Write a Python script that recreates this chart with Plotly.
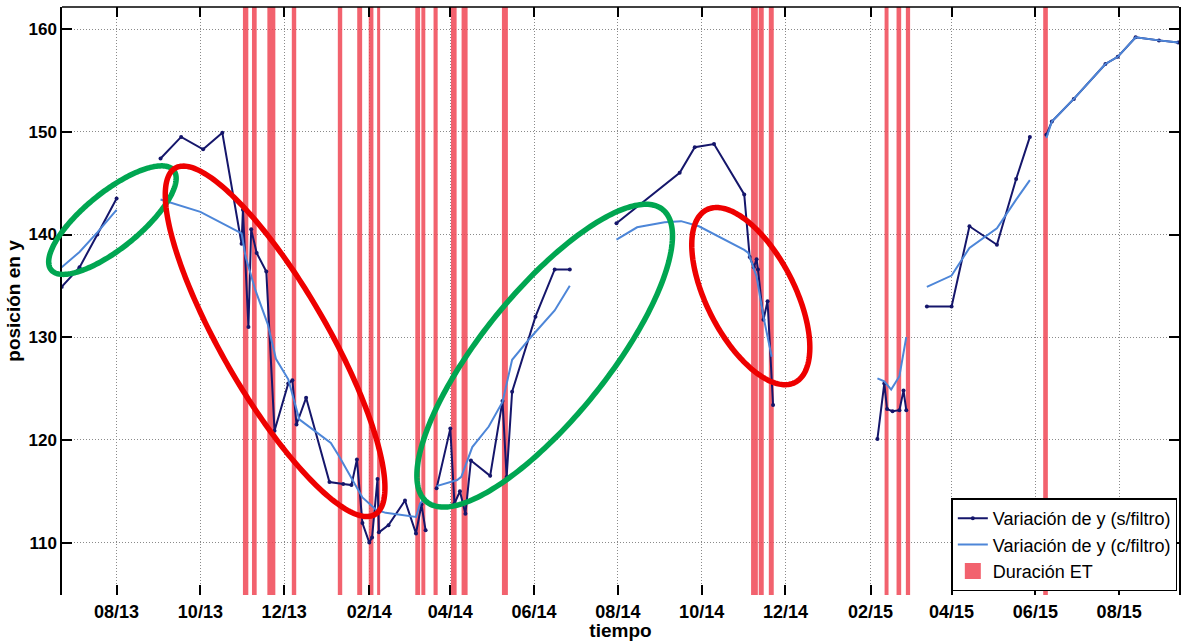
import math
from datetime import datetime
import plotly.graph_objects as go

# ---------------------------------------------------------------------------
# Posición en y – serie sin filtrar (s/filtro); None separa los tramos
# ---------------------------------------------------------------------------
fechas_sf = [
    "2013-06-22", "2013-07-05", "2013-07-18", "2013-08-01", None,
    "2013-09-02", "2013-09-17", "2013-10-03", "2013-10-17", "2013-10-31",
    "2013-11-01", "2013-11-05", "2013-11-07", "2013-11-11", "2013-11-18",
    "2013-11-24", "2013-12-04", "2013-12-07", "2013-12-10", "2013-12-17",
    "2014-01-03", "2014-01-13", "2014-01-19", "2014-01-23", "2014-01-27",
    "2014-02-01", "2014-02-03", "2014-02-07", "2014-02-08", "2014-02-15",
    "2014-02-27", "2014-03-07", "2014-03-11", "2014-03-14", None,
    "2014-03-22", "2014-04-01", "2014-04-04", "2014-04-08", "2014-04-12",
    "2014-04-16", "2014-04-30", "2014-05-09", "2014-05-12", "2014-05-16",
    "2014-06-02", "2014-06-16", "2014-06-27", None,
    "2014-07-31", "2014-09-15", "2014-09-26", "2014-10-10", "2014-11-01",
    "2014-11-05", "2014-11-08", "2014-11-10", "2014-11-11", "2014-11-15",
    "2014-11-18", "2014-11-22", None,
    "2015-02-06", "2015-02-11", "2015-02-13", "2015-02-17", "2015-02-22",
    "2015-02-25", "2015-02-27", None,
    "2015-03-14", "2015-04-01", "2015-04-14", "2015-05-04", "2015-05-18",
    "2015-05-28", None,
    "2015-06-09", "2015-06-13", "2015-06-29", "2015-07-22", "2015-07-31",
    "2015-08-13", "2015-08-30", "2015-09-13",
]
y_sf = [
    134.9, 136.8, 140.0, 143.5, None,
    147.4, 149.5, 148.3, 149.9, 139.1,
    142.4, 131.0, 140.5, 138.2, 136.4,
    120.9, 125.5, 125.8, 121.5, 124.1,
    115.9, 115.7, 115.6, 118.1, 111.9,
    110.0, 110.5, 116.2, 111.0, 111.7,
    114.1, 110.9, 113.7, 111.2, None,
    115.3, 121.1, 113.8, 115.0, 112.8,
    118.0, 116.5, 123.8, 116.4, 124.7,
    132.0, 136.6, 136.6, None,
    141.1, 146.0, 148.5, 148.8, 143.9,
    137.8, 136.8, 137.6, 136.6, 131.7,
    133.5, 123.4, None,
    120.1, 125.5, 123.0, 122.8, 122.9,
    124.8, 122.9, None,
    133.0, 133.0, 140.8, 139.0, 145.4,
    149.5, None,
    149.7, 151.0, 153.2, 156.6, 157.3,
    159.2, 158.9, 158.7,
]

# ---------------------------------------------------------------------------
# Posición en y – serie filtrada (c/filtro)
# ---------------------------------------------------------------------------
fechas_cf = [
    "2013-06-22", "2013-07-05", "2013-07-18", "2013-08-01", None,
    "2013-09-02", "2013-10-01", "2013-10-31", "2013-11-03", "2013-11-10",
    "2013-11-19", "2013-11-25", "2013-12-04", "2013-12-12", "2013-12-24",
    "2014-01-04", "2014-01-10", "2014-01-17", "2014-01-27", "2014-02-06",
    "2014-02-13", "2014-03-07", "2014-03-10", "2014-03-14", None,
    "2014-03-22", "2014-04-06", "2014-04-09", "2014-04-17", "2014-04-29",
    "2014-05-09", "2014-05-16", "2014-05-29", "2014-06-16", "2014-06-27", None,
    "2014-07-31", "2014-08-15", "2014-09-04", "2014-09-16", "2014-09-29",
    "2014-10-13", "2014-11-01", "2014-11-04", "2014-11-10", "2014-11-15",
    "2014-11-21", None,
    "2015-02-06", "2015-02-11", "2015-02-16", "2015-02-22", "2015-02-27", None,
    "2015-03-14", "2015-04-01", "2015-04-14", "2015-05-04", "2015-05-18",
    "2015-05-28", None,
    "2015-06-09", "2015-06-13", "2015-06-29", "2015-07-22", "2015-07-31",
    "2015-08-13", "2015-08-30", "2015-09-13",
]
y_cf = [
    136.8, 138.3, 140.2, 142.4, None,
    143.4, 142.2, 140.1, 137.8, 134.6,
    131.3, 127.9, 125.9, 122.0, 120.8,
    119.7, 118.4, 116.7, 114.4, 113.2,
    112.9, 112.5, 113.8, 114.4, None,
    115.5, 116.1, 116.4, 119.3, 121.3,
    123.7, 127.8, 129.9, 132.6, 135.0, None,
    139.5, 140.7, 141.2, 141.3, 140.8,
    139.8, 138.5, 138.2, 135.9, 132.0,
    128.1, None,
    126.0, 125.7, 124.9, 126.2, 130.0, None,
    134.9, 136.0, 138.7, 140.6, 143.4,
    145.3, None,
    149.4, 151.0, 153.2, 156.6, 157.3,
    159.2, 158.9, 158.7,
]

# ---------------------------------------------------------------------------
# Duración de los eventos ET (inicio, fin)
# ---------------------------------------------------------------------------
et_inicio = [
    "2013-11-01 00:00", "2013-11-07 14:00", "2013-11-18 19:00", "2013-12-06 14:00",
    "2014-01-09 02:00", "2014-01-23 05:00", "2014-01-31 14:00", "2014-02-06 17:00",
    "2014-03-06 12:00", "2014-03-10 22:00", "2014-03-19 19:00", "2014-04-01 12:00",
    "2014-04-09 05:00", "2014-05-08 14:00", "2014-11-06 00:00", "2014-11-11 14:00",
    "2014-11-18 22:00", "2015-02-11 05:00", "2015-02-19 22:00", "2015-02-26 17:00",
    "2015-06-06 17:00",
]
et_fin = [
    "2013-11-04 22:00", "2013-11-11 00:00", "2013-11-24 14:00", "2013-12-09 19:00",
    "2014-01-12 07:00", "2014-01-26 19:00", "2014-02-04 00:00", "2014-02-08 22:00",
    "2014-03-10 00:00", "2014-03-13 19:00", "2014-03-22 19:00", "2014-04-05 14:00",
    "2014-04-13 14:00", "2014-05-12 22:00", "2014-11-10 22:00", "2014-11-15 05:00",
    "2014-11-22 12:00", "2015-02-14 02:00", "2015-02-23 07:00", "2015-03-01 19:00",
    "2015-06-10 02:00",
]

# Ejes
x_tickvals = ["2013-08-01", "2013-10-01", "2013-12-01", "2014-02-01", "2014-04-01",
              "2014-06-01", "2014-08-01", "2014-10-01", "2014-12-01", "2015-02-01",
              "2015-04-01", "2015-06-01", "2015-08-01"]
x_ticktext = ["08/13", "10/13", "12/13", "02/14", "04/14", "06/14", "08/14",
              "10/14", "12/14", "02/15", "04/15", "06/15", "08/15"]
y_tickvals = [110, 120, 130, 140, 150, 160]
x_range = ["2013-06-22 06:00", "2015-09-13 14:00"]
y_range = [104.9, 162.15]

# Elipses de resaltado: centro (fecha, y), semiejes en píxeles, giro en grados
elipses = [
    dict(fecha="2013-07-28 23:00", y=141.4, a=79, b=28, ang=39, color="#00a651"),
    dict(fecha="2013-11-24 10:00", y=129.6, a=200, b=53, ang=-60, color="#ee0000"),
    dict(fecha="2014-06-08 17:00", y=128.2, a=188, b=63, ang=51, color="#00a651"),
    dict(fecha="2014-11-05 19:00", y=134.0, a=97, b=44, ang=-62.8, color="#ee0000"),
]

# ---------------------------------------------------------------------------
W, H = 1181, 641
M = dict(l=62, r=0, t=7, b=46, pad=0)
plot_w = W - M["l"] - M["r"]
plot_h = H - M["t"] - M["b"]

fmt = "%Y-%m-%d %H:%M"
x0 = datetime.strptime(x_range[0], fmt)
x1 = datetime.strptime(x_range[1], fmt)
span_s = (x1 - x0).total_seconds()

COL_SF = "#15166b"
COL_CF = "#4d86d8"
COL_ET = "rgba(240,70,85,0.85)"
FONT = "Liberation Sans, Arial, sans-serif"

fig = go.Figure()

# Bandas ET (rectángulos de altura completa)
bx, by = [], []
for s, e in zip(et_inicio, et_fin):
    bx += [s, s, e, e, s, None]
    by += [y_range[0], y_range[1], y_range[1], y_range[0], y_range[0], None]
fig.add_trace(go.Scatter(
    x=bx, y=by, mode="lines", fill="toself", fillcolor=COL_ET,
    line=dict(width=0, color=COL_ET), hoverinfo="skip", showlegend=False,
))

fig.add_trace(go.Scatter(
    x=fechas_sf, y=y_sf, mode="lines+markers", name="Variación de y (s/filtro)",
    line=dict(color=COL_SF, width=2), marker=dict(color=COL_SF, size=4),
    connectgaps=False, legendrank=1,
))
fig.add_trace(go.Scatter(
    x=fechas_cf, y=y_cf, mode="lines", name="Variación de y (c/filtro)",
    line=dict(color=COL_CF, width=2), connectgaps=False, legendrank=2,
))
# entrada de leyenda para las bandas
fig.add_trace(go.Scatter(
    x=[None], y=[None], mode="markers", name="Duración ET",
    marker=dict(symbol="square", size=16, color=COL_ET, line=dict(width=0)),
    legendrank=3,
))

# Elipses como trazados en coordenadas de papel (pueden salirse del área)
shapes = [dict(type="line", xref="paper", yref="paper", x0=0, x1=1, y0=1, y1=1,
               line=dict(color="black", width=1.5), layer="above")]
for el in elipses:
    c = datetime.strptime(el["fecha"], fmt)
    cx = (c - x0).total_seconds() / span_s * plot_w
    cy = (el["y"] - y_range[0]) / (y_range[1] - y_range[0]) * plot_h
    phi = math.radians(el["ang"])
    pts = []
    for k in range(240):
        t = 2 * math.pi * k / 240
        u = el["a"] * math.cos(t)
        v = el["b"] * math.sin(t)
        px = cx + u * math.cos(phi) - v * math.sin(phi)
        py = cy + u * math.sin(phi) + v * math.cos(phi)
        pts.append(f"{px / plot_w:.5f},{py / plot_h:.5f}")
    path = "M" + " L".join(pts) + " Z"
    shapes.append(dict(type="path", xref="paper", yref="paper", path=path,
                       line=dict(color=el["color"], width=5.5), layer="above"))

fig.update_layout(
    width=W, height=H, autosize=False, margin=M,
    paper_bgcolor="white", plot_bgcolor="white",
    font=dict(family=FONT, color="black"),
    showlegend=True,
    legend=dict(
        x=0.9985, y=0.006, xanchor="right", yanchor="bottom",
        bgcolor="white", bordercolor="black", borderwidth=1.5,
        font=dict(family=FONT, size=18, color="black"),
        tracegroupgap=0, itemsizing="trace",
    ),
    shapes=shapes,
)

fig.update_xaxes(
    type="date", range=x_range,
    tickvals=x_tickvals, ticktext=x_ticktext,
    ticks="inside", ticklen=10, tickwidth=1.5, tickcolor="black",
    showline=True, linecolor="rgba(0,0,0,0)", mirror="ticks",
    showgrid=True, gridcolor="#8a8a8a", gridwidth=1, griddash="1px,2px",
    zeroline=False,
    tickfont=dict(family=FONT, size=18, weight="bold"),
    title=dict(text="tiempo", font=dict(family=FONT, size=19, weight="bold"), standoff=1),
)
fig.update_yaxes(
    range=y_range, tickvals=y_tickvals,
    ticks="inside", ticklen=10, tickwidth=1.5, tickcolor="black",
    showline=True, linecolor="black", linewidth=1.5, mirror="ticks",
    showgrid=True, gridcolor="#8a8a8a", gridwidth=1, griddash="1px,2px",
    zeroline=False,
    tickfont=dict(family=FONT, size=17, weight="bold"),
    title=dict(text="posición en y", font=dict(family=FONT, size=19, weight="bold"), standoff=3),
)

fig.write_html("out.html")
